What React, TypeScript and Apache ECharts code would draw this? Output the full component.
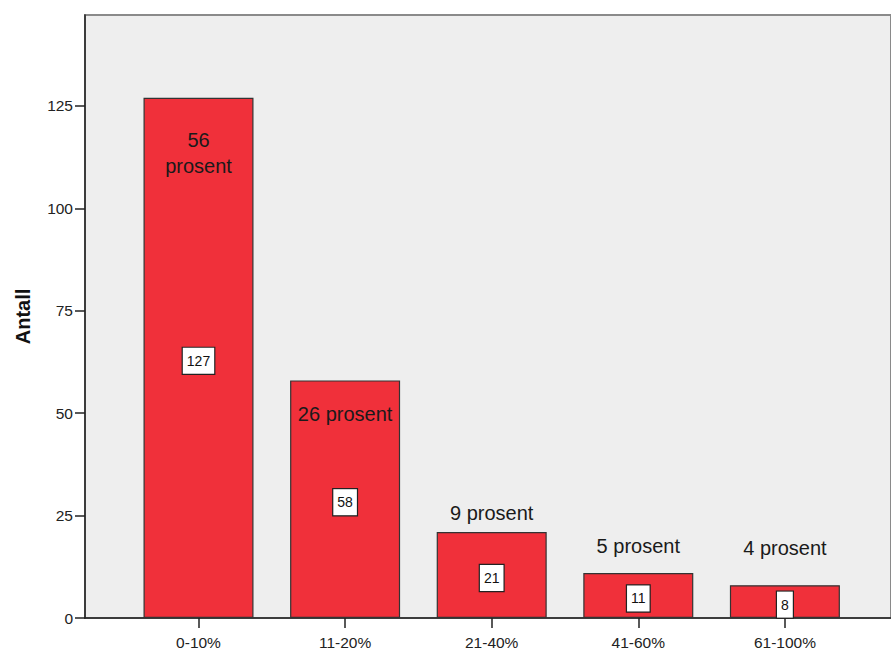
import React, { useEffect, useRef } from "react";
import * as echarts from "echarts";

const categories = ["0-10%", "11-20%", "21-40%", "41-60%", "61-100%"];
const counts = [127, 58, 21, 11, 8];
const percentLabels = ["56\nprosent", "26 prosent", "9 prosent", "5 prosent", "4 prosent"];
const yTicks = [0, 25, 50, 75, 100, 125];
const yMax = 147.2;

const FONT = "'Liberation Sans', Arial, sans-serif";

export default function App() {
  const ref = useRef<HTMLDivElement>(null);
  useEffect(() => {
    if (!ref.current) return;
    const chart = echarts.init(ref.current, undefined, { renderer: "svg" });
    const insideTop = [true, true, false, false, false];
    const labelDist = [29, 21, 6, 14, 24];
    chart.setOption({
      animation: false,
      backgroundColor: "#ffffff",
      grid: [
        {
          left: 85, top: 15, width: 840, height: 603,
          show: true, backgroundColor: "#eeeeee", borderColor: "#8a8a8a", borderWidth: 2,
        },
        { left: 125.2, top: 15, width: 733, height: 603 },
      ],
      xAxis: [
        {
          gridIndex: 0, type: "value", min: 0, max: 1,
          axisLine: { show: true, lineStyle: { color: "#222", width: 1.5 } },
          axisTick: { show: false }, axisLabel: { show: false }, splitLine: { show: false },
        },
        {
          gridIndex: 1, type: "category", data: categories,
          axisLine: { show: false },
          axisTick: { show: true, alignWithLabel: true, length: 10, lineStyle: { color: "#222", width: 1.5 } },
          axisLabel: { fontSize: 15.5, color: "#222", margin: 16, fontFamily: FONT },
        },
      ],
      yAxis: [
        {
          gridIndex: 0, type: "value", min: 0, max: yMax,
          name: "Antall", nameLocation: "middle", nameGap: 52,
          nameTextStyle: { fontSize: 20, fontWeight: "bold", color: "#111", fontFamily: FONT },
          axisLine: { show: true, lineStyle: { color: "#222", width: 1.5 } },
          axisTick: { show: true, length: 10, customValues: yTicks, lineStyle: { color: "#222", width: 1.5 } },
          axisLabel: { fontSize: 15.5, color: "#222", margin: 12, customValues: yTicks, fontFamily: FONT },
          splitLine: { show: false },
        },
        { gridIndex: 1, type: "value", min: 0, max: yMax, show: false },
      ],
      series: [
        {
          type: "bar", xAxisIndex: 1, yAxisIndex: 1, data: counts, barWidth: 110,
          itemStyle: { color: "#f0303a", borderColor: "#333", borderWidth: 1.2 },
          label: {
            show: true, position: "inside", offset: [0, 3],
            formatter: "{c}", fontSize: 14, color: "#111", fontFamily: FONT,
            backgroundColor: "#ffffff", borderColor: "#222", borderWidth: 1.2, padding: [7, 4, 5, 4],
          },
          z: 2,
        },
        {
          type: "bar", xAxisIndex: 1, yAxisIndex: 1, barWidth: 110, barGap: "-100%",
          itemStyle: { color: "transparent" },
          data: counts.map((v, i) => ({
            value: v,
            label: {
              position: insideTop[i] ? "insideTop" : "top",
              distance: labelDist[i],
            },
          })),
          label: {
            show: true,
            formatter: (p: any) => percentLabels[p.dataIndex],
            fontSize: 20, color: "#1a1a1a", fontFamily: FONT, lineHeight: 26,
          },
          z: 3,
        },
      ],
    });
    return () => chart.dispose();
  }, []);
  return (
    <div
      ref={ref}
      style={{ position: "fixed", left: 0, top: 0, width: 891, height: 650 }}
    />
  );
}
